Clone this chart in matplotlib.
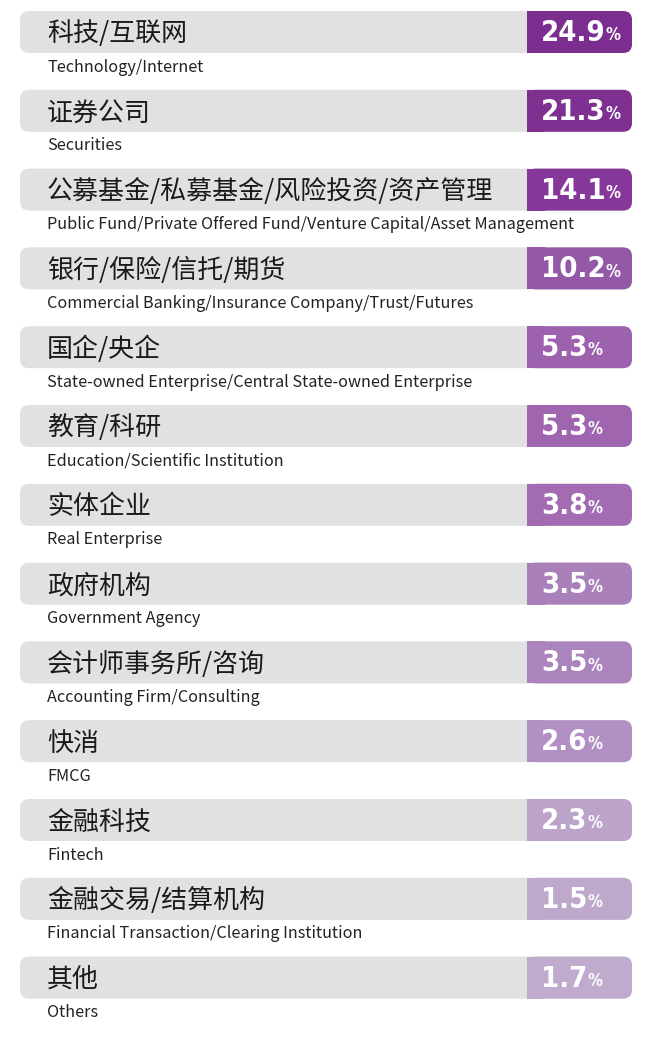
import matplotlib
matplotlib.use('Agg')
import matplotlib.pyplot as plt
from matplotlib.patches import FancyBboxPatch, Rectangle

plt.rcParams['font.family'] = ['Noto Sans CJK SC', 'DejaVu Sans']

cn_labels = ['科技/互联网', '证券公司', '公募基金/私募基金/风险投资/资产管理',
             '银行/保险/信托/期货', '国企/央企', '教育/科研', '实体企业', '政府机构',
             '会计师事务所/咨询', '快消', '金融科技', '金融交易/结算机构', '其他']
en_labels = ['Technology/Internet', 'Securities',
             'Public Fund/Private Offered Fund/Venture Capital/Asset Management',
             'Commercial Banking/Insurance Company/Trust/Futures',
             'State-owned Enterprise/Central State-owned Enterprise',
             'Education/Scientific Institution', 'Real Enterprise',
             'Government Agency', 'Accounting Firm/Consulting', 'FMCG', 'Fintech',
             'Financial Transaction/Clearing Institution', 'Others']
values = [24.9, 21.3, 14.1, 10.2, 5.3, 5.3, 3.8, 3.5, 3.5, 2.6, 2.3, 1.5, 1.7]

# purple shades, darkest at the top
colors = ['#7b2e8f', '#7f3192', '#86389a', '#9358a6', '#9d62ad', '#9f66af', '#a26bb2',
          '#aa80bb', '#ac84bd', '#b290c3', '#bca3ca', '#bea8cc', '#c0aacd']

W, H = 660, 1037
fig = plt.figure(figsize=(W / 100, H / 100), dpi=100)
ax = fig.add_axes([0, 0, 1, 1])
ax.set_xlim(0, W)
ax.set_ylim(H, 0)
ax.axis('off')

top0 = 11
step = 78.8
bh = 42
x0, x1, xp = 20, 632, 527
r = 9

for i, (cn, en, v, c) in enumerate(zip(cn_labels, en_labels, values, colors)):
    y = top0 + i * step
    # grey bar
    ax.add_patch(FancyBboxPatch((x0 + r, y + r), x1 - x0 - 2 * r, bh - 2 * r,
                                boxstyle='round,pad=%d' % r, fc='#e1e1e1', ec='none'))
    # purple value box (rounded on right side only)
    ax.add_patch(FancyBboxPatch((xp + r, y + r), x1 - xp - 2 * r, bh - 2 * r,
                                boxstyle='round,pad=%d' % r, fc=c, ec='none'))
    ax.add_patch(Rectangle((xp, y), 2 * r, bh, fc=c, ec='none'))
    ax.text(47, y + bh / 2 + 2, cn, fontsize=18.7, va='center', ha='left', color='#1a1a1a')
    ax.text(47, y + bh + 14, en, fontsize=11.7, va='center', ha='left', color='#222222')
    t = ax.text(541, y + bh / 2 + 1, '%.1f' % v, fontsize=21, fontweight='bold',
                family='DejaVu Sans', fontstretch='condensed',
                va='center', ha='left', color='white')
    ax.annotate('%', xy=(1, 0.1), xycoords=t, fontsize=12, fontweight='bold',
                family='DejaVu Sans', fontstretch='condensed',
                va='bottom', ha='left', color='white')

fig.savefig('out.png', dpi=100, facecolor='white')
